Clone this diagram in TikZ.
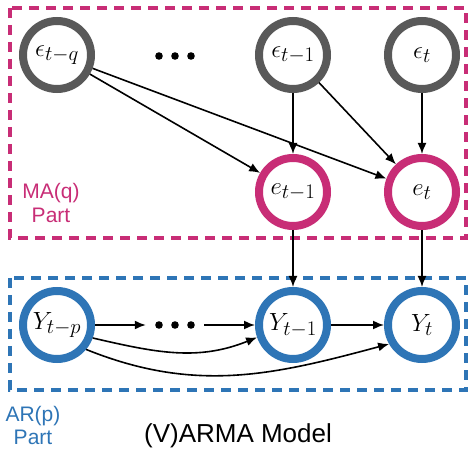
\documentclass[tikz,border=0pt]{standalone}
\usepackage{fontspec}
\setsansfont{Liberation Sans}
\usetikzlibrary{arrows.meta}
\definecolor{magentapart}{RGB}{200,45,118}
\definecolor{bluepart}{RGB}{46,117,182}
\definecolor{ringgray}{RGB}{89,89,89}
\tikzset{
  var/.style={circle, draw, line width=8pt, minimum size=68pt, inner sep=0pt,
              fill=white, font=\fontsize{30}{32}\selectfont},
  noise/.style={var, draw=ringgray},
  err/.style={var, draw=magentapart},
  obs/.style={var, draw=bluepart},
  edge/.style={line width=1.6pt, -{Latex[length=11pt,width=9pt]}},
  partbox/.style={line width=4pt, dash pattern=on 10pt off 7pt},
  dotsnode/.style={minimum width=58pt, minimum height=10pt, inner sep=0pt},
  partlabel/.style={font=\sffamily\fontsize{21}{24}\selectfont, anchor=base},
  title/.style={font=\sffamily\fontsize{26}{30}\selectfont, anchor=base}
}
\begin{document}
\begin{tikzpicture}[x=1pt, y=-1pt]
  \useasboundingbox (0,0) rectangle (469,449);

  % dashed part frames
  \draw[partbox, magentapart] (10,8) rectangle (466,238);
  \draw[partbox, bluepart] (10,278) rectangle (466,390);

  % innovations
  \node[noise] (eq) at (57,55) {$\epsilon_{t-q}$};
  \node[noise] (e1) at (293,55) {$\epsilon_{t-1}$};
  \node[noise] (e0) at (422,55) {$\epsilon_t$};
  \node[dotsnode] (d1) at (175,56) {};

  % moving-average errors
  \node[err] (m1) at (293,192) {$e_{t-1}$};
  \node[err] (m0) at (422,192) {$e_t$};

  % observations
  \node[obs] (yp) at (57,325) {$Y_{t-p}$};
  \node[dotsnode] (d2) at (175,325) {};
  \node[obs] (y1) at (293,325) {$Y_{t-1}$};
  \node[obs] (y0) at (422,325) {$Y_t$};

  % ellipsis dots
  \foreach \n in {d1,d2} {
    \fill (\n.center) circle (3.8pt);
    \fill ([xshift=-16pt]\n.center) circle (3.8pt);
    \fill ([xshift=16pt]\n.center) circle (3.8pt);
  }

  % MA connections
  \draw[edge] (eq) -- (m1);
  \draw[edge] (eq) -- (m0);
  \draw[edge] (e1) -- (m1);
  \draw[edge] (e1) -- (m0);
  \draw[edge] (e0) -- (m0);
  \draw[edge] (m1) -- (y1);
  \draw[edge] (m0) -- (y0);

  % AR connections
  \draw[edge] (yp) -- (d2);
  \draw[edge] (d2) -- (y1);
  \draw[edge] (y1) -- (y0);
  \draw[edge] (yp.-20) to[out=-13, in=202] (y1.-161);
  \draw[edge] (yp.-40) to[out=-22, in=195] (y0.-150);

  % labels
  \node[partlabel, magentapart] (malab) at (51,199) {MA(q)};
  \node[partlabel, magentapart] (mapart) at (51,223) {Part};
  \node[partlabel, bluepart] (arlab) at (33,421) {AR(p)};
  \node[partlabel, bluepart] (arpart) at (33,444) {Part};
  \node[title] (ttl) at (238,442) {(V)ARMA Model};
\end{tikzpicture}
\end{document}
